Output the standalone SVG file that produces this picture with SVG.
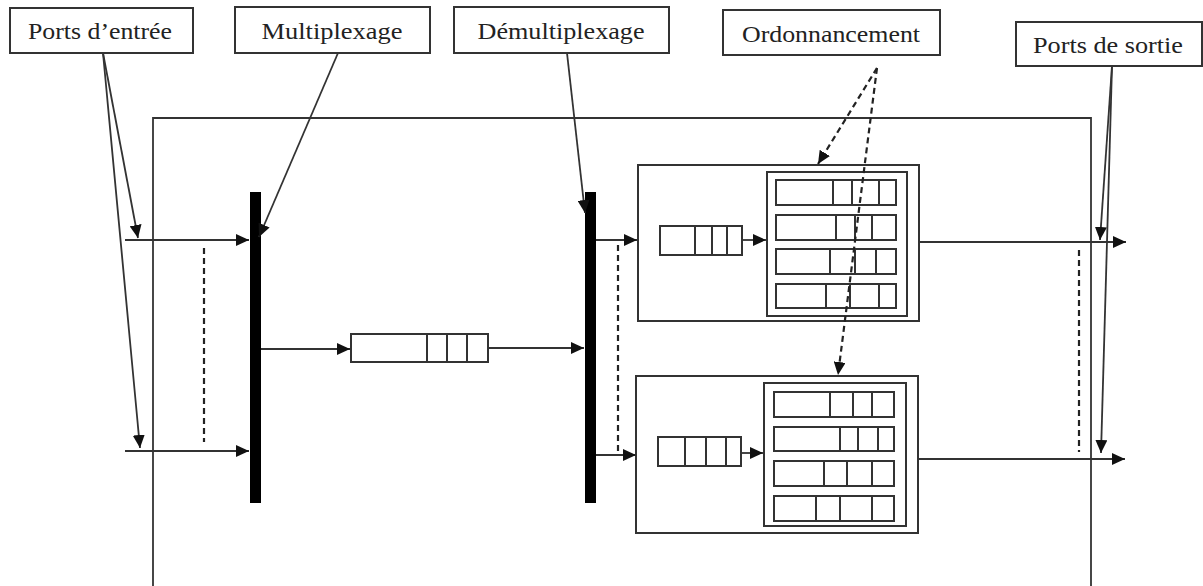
<svg xmlns="http://www.w3.org/2000/svg" width="1203" height="586" viewBox="0 0 1203 586">
<defs>
<marker id="ah" markerUnits="userSpaceOnUse" markerWidth="14" markerHeight="12" refX="13" refY="6" orient="auto"><path d="M0,0 L13,6 L0,12 z" fill="#111"/></marker>
<style>
.lbl rect{fill:#fff;stroke:#333;stroke-width:2}
.lbl text{font-family:"Liberation Serif","Times New Roman",serif;font-size:23px;fill:#222;text-anchor:middle}
.ln{stroke:#333;stroke-width:1.8;fill:none}
.ar{stroke:#333;stroke-width:1.8;fill:none;marker-end:url(#ah)}
.da{stroke:#222;stroke-width:2.2;stroke-dasharray:6,4;fill:none}
.dar{stroke:#222;stroke-width:2.2;stroke-dasharray:6,4;fill:none;marker-end:url(#ah)}
.bx{fill:#fff;stroke:#333;stroke-width:2}
.q{fill:#fff;stroke:#333;stroke-width:2}
.dv{stroke:#333;stroke-width:2}
.bar{fill:#000}
</style>
</defs>
<rect width="1203" height="586" fill="#fff"/>

<g id="switch">
<path class="ln" d="M153,586 V118 H1091 V586" stroke-width="2"/>
</g>

<g id="label-entree" class="lbl"><rect x="10" y="8" width="183" height="45"/><text x="100" y="39" textLength="144" lengthAdjust="spacingAndGlyphs">Ports d’entrée</text></g>
<g id="label-mux" class="lbl"><rect x="235" y="7" width="195" height="46"/><text x="332" y="39" textLength="141" lengthAdjust="spacingAndGlyphs">Multiplexage</text></g>
<g id="label-demux" class="lbl"><rect x="454" y="7" width="215" height="46"/><text x="561" y="39" textLength="167" lengthAdjust="spacingAndGlyphs">Démultiplexage</text></g>
<g id="label-ord" class="lbl"><rect x="723" y="10" width="217" height="45"/><text x="831" y="42" textLength="178" lengthAdjust="spacingAndGlyphs">Ordonnancement</text></g>
<g id="label-sortie" class="lbl"><rect x="1016" y="22" width="186" height="44"/><text x="1108" y="53" textLength="150" lengthAdjust="spacingAndGlyphs">Ports de sortie</text></g>

<g id="mux"><rect class="bar" x="250" y="192" width="11" height="311"/></g>
<g id="demux"><rect class="bar" x="585" y="192" width="11" height="311"/></g>

<g id="central-queue">
<rect class="q" x="351" y="334" width="137" height="28"/>
<line class="dv" x1="427" y1="334" x2="427" y2="362"/>
<line class="dv" x1="447" y1="334" x2="447" y2="362"/>
<line class="dv" x1="467" y1="334" x2="467" y2="362"/>
</g>

<g id="sched-1">
<rect class="bx" x="638" y="165" width="281" height="156"/>
<rect class="q" x="660" y="226" width="82" height="29"/>
<line class="dv" x1="695" y1="226" x2="695" y2="255"/>
<line class="dv" x1="712" y1="226" x2="712" y2="255"/>
<line class="dv" x1="727" y1="226" x2="727" y2="255"/>
<rect class="bx" x="767" y="172" width="140" height="144"/>
<rect class="q" x="776" y="180" width="120" height="25"/>
<line class="dv" x1="833" y1="180" x2="833" y2="205"/>
<line class="dv" x1="852" y1="180" x2="852" y2="205"/>
<line class="dv" x1="879" y1="180" x2="879" y2="205"/>
<rect class="q" x="776" y="215" width="120" height="25"/>
<line class="dv" x1="836" y1="215" x2="836" y2="240"/>
<line class="dv" x1="855" y1="215" x2="855" y2="240"/>
<line class="dv" x1="872" y1="215" x2="872" y2="240"/>
<rect class="q" x="776" y="249" width="120" height="25"/>
<line class="dv" x1="830" y1="249" x2="830" y2="274"/>
<line class="dv" x1="855" y1="249" x2="855" y2="274"/>
<line class="dv" x1="876" y1="249" x2="876" y2="274"/>
<rect class="q" x="776" y="284" width="120" height="24"/>
<line class="dv" x1="826" y1="284" x2="826" y2="308"/>
<line class="dv" x1="850" y1="284" x2="850" y2="308"/>
<line class="dv" x1="879" y1="284" x2="879" y2="308"/>
</g>

<g id="sched-2">
<rect class="bx" x="636" y="376" width="282" height="157"/>
<rect class="q" x="658" y="437" width="83" height="29"/>
<line class="dv" x1="685" y1="437" x2="685" y2="466"/>
<line class="dv" x1="706" y1="437" x2="706" y2="466"/>
<line class="dv" x1="726" y1="437" x2="726" y2="466"/>
<rect class="bx" x="764" y="383" width="142" height="143"/>
<rect class="q" x="774" y="392" width="120" height="25"/>
<line class="dv" x1="830" y1="392" x2="830" y2="417"/>
<line class="dv" x1="853" y1="392" x2="853" y2="417"/>
<line class="dv" x1="872" y1="392" x2="872" y2="417"/>
<rect class="q" x="774" y="427" width="120" height="24"/>
<line class="dv" x1="840" y1="427" x2="840" y2="451"/>
<line class="dv" x1="858" y1="427" x2="858" y2="451"/>
<line class="dv" x1="878" y1="427" x2="878" y2="451"/>
<rect class="q" x="774" y="461" width="120" height="25"/>
<line class="dv" x1="824" y1="461" x2="824" y2="486"/>
<line class="dv" x1="847" y1="461" x2="847" y2="486"/>
<line class="dv" x1="872" y1="461" x2="872" y2="486"/>
<rect class="q" x="774" y="496" width="120" height="25"/>
<line class="dv" x1="816" y1="496" x2="816" y2="521"/>
<line class="dv" x1="840" y1="496" x2="840" y2="521"/>
<line class="dv" x1="872" y1="496" x2="872" y2="521"/>
</g>

<g id="connectors">
<line class="ar" x1="103" y1="53" x2="138" y2="238"/>
<line class="ar" x1="103" y1="53" x2="140" y2="448"/>
<line class="ar" x1="125" y1="240" x2="249" y2="240"/>
<line class="ar" x1="125" y1="451" x2="249" y2="451"/>
<line class="da" x1="204" y1="248" x2="204" y2="442"/>
<line class="ar" x1="338" y1="53" x2="259" y2="237"/>
<line class="ar" x1="261" y1="349" x2="350" y2="349"/>
<line class="ar" x1="488" y1="348" x2="584" y2="348"/>
<line class="ar" x1="567" y1="53" x2="585" y2="213"/>
<line class="ar" x1="596" y1="240" x2="637" y2="240"/>
<line class="ar" x1="596" y1="455" x2="636" y2="455"/>
<line class="da" x1="618" y1="245" x2="618" y2="452"/>
<line class="ar" x1="742" y1="240" x2="766" y2="240"/>
<line class="ar" x1="741" y1="453" x2="763" y2="453"/>
<line class="ar" x1="919" y1="242" x2="1126" y2="242"/>
<line class="ar" x1="918" y1="459" x2="1125" y2="459"/>
<line class="da" x1="1079" y1="250" x2="1079" y2="452"/>
<line class="ar" x1="1112" y1="66" x2="1100" y2="240"/>
<line class="ar" x1="1112" y1="66" x2="1101" y2="453"/>
<line class="dar" x1="877" y1="68" x2="818" y2="164"/>
<line class="dar" x1="877" y1="68" x2="838" y2="375"/>
</g>
</svg>
